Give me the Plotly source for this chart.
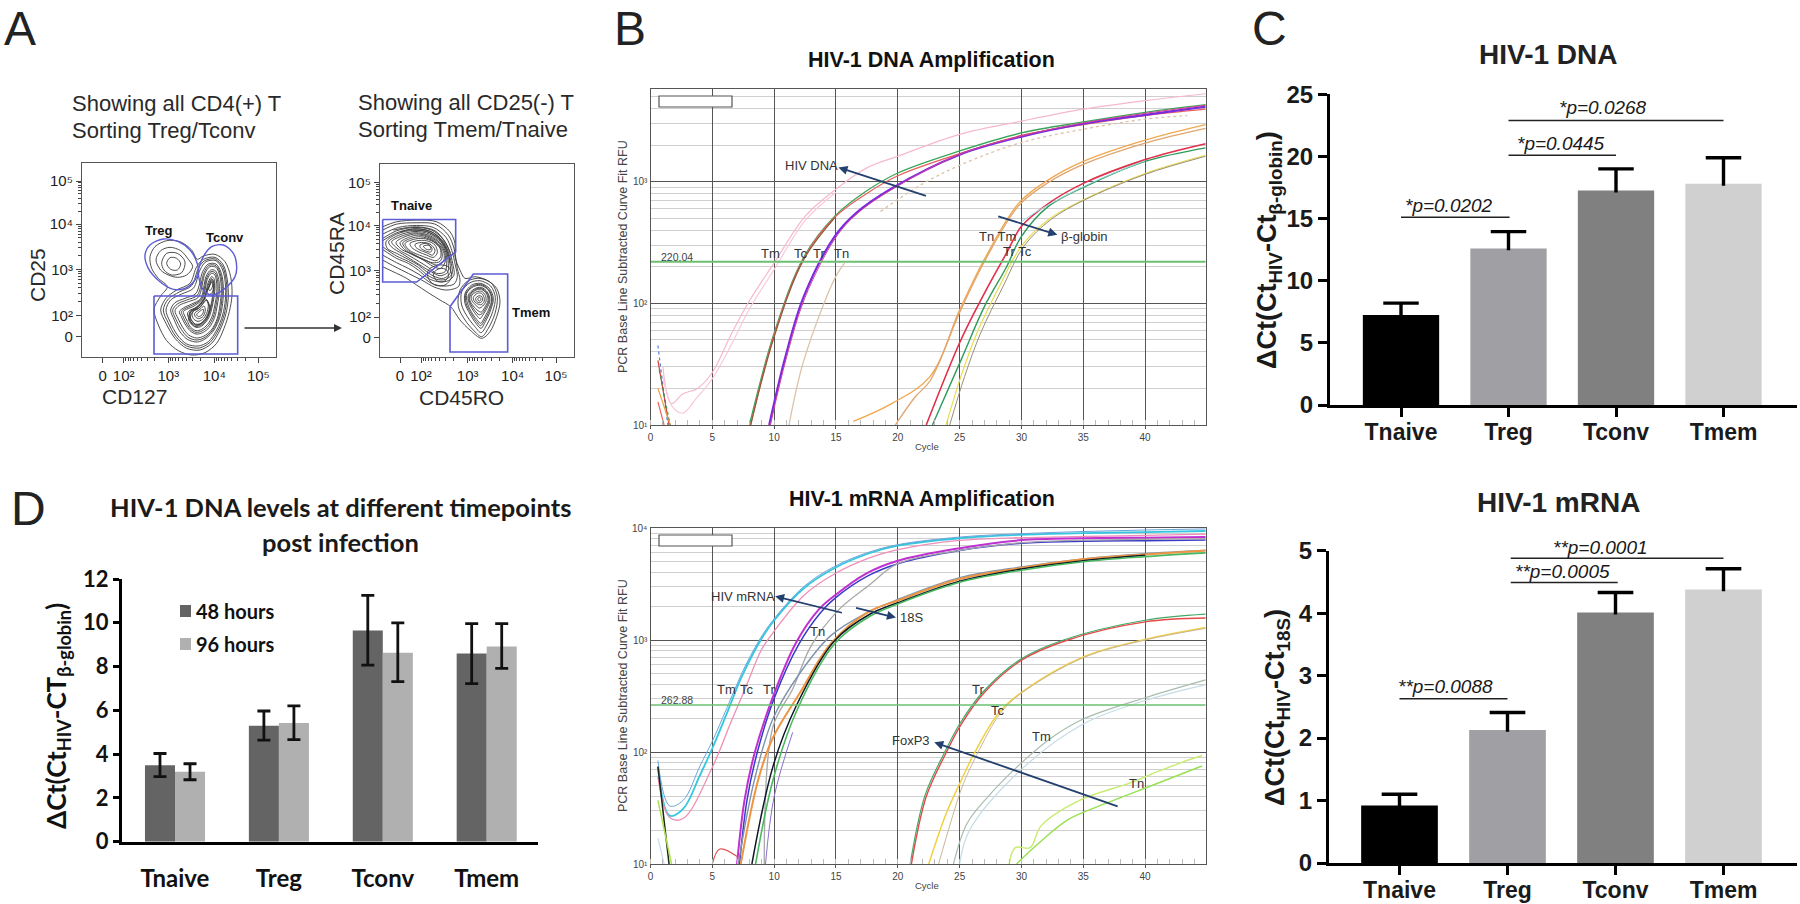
import math
import plotly.graph_objects as go

W, H = 1800, 904
SANS = "Liberation Sans"
CALIB = "Lato"

# ---------- Panel C / D values ----------
cells = ["Tnaive", "Treg", "Tconv", "Tmem"]
dna_vals = [7.24, 12.6, 17.25, 17.8]
dna_tops = [8.2, 13.95, 19.0, 19.9]
mrna_vals = [0.92, 2.13, 4.01, 4.38]
mrna_tops = [1.10, 2.41, 4.33, 4.71]
bar_colors = ["#000000", "#a0a0a4", "#808080", "#d0d0d0"]

h48_vals = [3.49, 5.3, 9.65, 8.6]
h48_hi = [4.03, 5.97, 11.25, 9.96]
h48_lo = [2.97, 4.64, 8.07, 7.22]
h96_vals = [3.2, 5.42, 8.63, 8.92]
h96_hi = [3.56, 6.2, 10.0, 9.96]
h96_lo = [2.83, 4.66, 7.31, 7.92]

dna_sig = [(0.0, 1.01, 15.1), (1.0, 2.0, 20.1), (1.0, 3.0, 22.9)]
mrna_sig = [(0.0, 1.0, 2.63), (1.03, 2.02, 4.49), (1.03, 3.0, 4.88)]
sig_labels = ["*p=0.0202", "*p=0.0445", "*p=0.0268", "**p=0.0088", "**p=0.0005", "**p=0.0001"]

# ---------- Panel B curves: (cycles, RFU, colour, width, dash) ----------
B1_CURVES = [
    ([1.0,1.7,2.6,3.8,5,6.5,8,10,12.5,15,17.5,20,25,30,35,40,45],[30,15,18,20,27,55,105,215,520,870,1300,1620,2450,3150,3950,4650,5300],"#f6b8cc",1.2,None),
    ([1.0,1.8,2.6,3.8,5,6.5,8,10,12.5,15],[25,14,12.5,17,24,45,90,190,480,820],"#f9c9d8",1.2,None),
    ([8,10,12.4,14.9,17.4,20,25,30,35,40,44.9],[10,57,240,520,830,1180,1790,2520,3100,3720,4300],"#3aa55a",1.3,None),
    ([8.1,10,12.4,14.9,17.4,20,25,30,35,40,44.9],[10,55,235,510,790,1120,1700,2400,2950,3500,3950],"#e8605c",1.3,None),
    ([8.1,10,12.4,14.9],[10,53,230,505],"#8a5a3a",1.2,None),
    ([9.6,10.9,12.4,14.9,16.6,19.5,25,30,35,40,44.9],[10,36,114,355,550,880,1670,2350,3000,3550,4150],"#7a2be2",2.2,None),
    ([9.7,11,12.5,15,16.7,19.6,25,30,35,40,44.9],[10,36,112,350,545,875,1680,2380,3040,3650,4250],"#d6408e",1.0,None),
    ([11.2,12.4,14.9,15.7],[10,34,160,215],"#dcc2a8",1.3,None),
    ([18.6,22,25.4,30,35,40,43.4],[570,960,1420,2100,2700,3270,3500],"#dcc2a8",1.3,"dot"),
    ([16.4,19.5,22.6,25,27,29.8,32.2,35,40,44.9],[10.7,15,25,88,230,670,1040,1470,2200,2950],"#f0a850",1.4,None),
    ([19.8,21.4,22.6,25,27,29.8,32.2,35,40,44.9],[10,17,23,84,220,640,990,1390,2080,2750],"#e0a570",1.3,None),
    ([22.3,25.1,27,28.8,30,32.2,35,40,44.9],[10,50,121,260,430,665,970,1520,2050],"#e0304a",1.6,None),
    ([22.8,25.1,27,28.8,30,32.2,35.7,40,44.9],[10,34,94,200,355,630,970,1470,1900],"#2f9a5c",1.4,None),
    ([30,31.5,35.7,40],[470,590,985,1490],"#9fdce6",1.0,None),
    ([23.9,25.1,26.4,28.2,30,32.2,35,40,44.9],[10,25,57,137,295,490,710,1170,1650],"#e8dc50",1.2,None),
    ([24.2,25.4,26.7,28.5,30.2,32.4,35,40,44.9],[10,25,57,137,295,490,700,1150,1620],"#9a8f78",1.0,None),
    ([0.6,1.4],[45,10],"#4d7ee0",1.2,"dot"),
    ([0.6,1.5],[34,10],"#d04040",1.2,None),
    ([0.6,1.6],[20,10],"#e8a040",1.2,None),
    ([0.6,1.1],[15.5,10],"#f06060",1.2,None),
    ([0.7,1.6],[28,10],"#3a9a50",1.0,"dot"),
]
B2_CURVES = [
    ([0.6,1.55,2.64,4,5,6.2,7.4,8.8,9.9,12.4,14.9,17.7,20,25,30,35,40,44.9],[74,27,31,62,108,225,475,950,1450,2900,4400,5950,6950,8100,8700,9000,9200,9400],"#35c6e0",1.8,None),
    ([0.6,1.55,2.64,4,5,6.2,7.4,8.8,9.9,12.4,14.9,17.7,20,25,30,35,40,44.9],[84,33,37,75,125,250,510,1000,1500,3000,4550,6100,7100,8300,8900,9300,9600,9800],"#6aa4d8",1.0,None),
    ([0.6,1.55,2.64,5,6.5,7.75,9,9.9,12.4,14.9,17.7,20,25,30,35,40,44.9],[60,26,25.5,73,184,390,830,1160,2500,3900,5400,6400,7750,8200,8400,8600,8800],"#ef8fb8",1.3,None),
    ([7,7.6,8.4,9.9,11.8,13.6,14.9,17.4,20,25,30,35,40,44.9],[10,37,96,310,960,1870,2500,3900,5100,6600,7800,8100,8200,8300],"#c030d0",2.0,None),
    ([7.2,7.8,8.6,10,12,13.8,15,17.5,20,25,30,35,40,44.9],[10,37,96,300,920,1780,2400,3700,4800,6300,7300,7600,7700,7800],"#3a3ac8",1.5,None),
    ([9.2,9.9,11.5,13,15.2,17.7,20,25,30,35,40,44.9],[10,168,365,890,1850,3100,4800,6300,7400,7800,7900,8000],"#a8a8a8",1.3,None),
    ([7.1,8.4,9.9,12.1,14.6,17.4,20,25,30,35,40,44.9],[10,56,198,510,1100,1730,2300,3600,4500,5300,5900,6300],"#7f93ad",1.4,None),
    ([7.3,8.7,9.9,12.1,14.6,17.7,20,25,30,35,40,44.9],[10,56,134,340,930,1800,2250,3500,4400,5250,5800,6300],"#ef9440",2.0,None),
    ([8.2,9.9,11.8,14.9,17.7,20,25,30,35,40],[10,74,260,990,1690,2150,3350,4300,5100,5700],"#101828",1.5,None),
    ([8.5,9.9,11.8,14.9,17.7,20,25,30,35,40,44.9],[10,56,230,930,1620,2100,3280,4200,5000,5550,6000],"#49b860",1.6,None),
    ([9.3,10,11.5],[10,40,150],"#8a70d0",1.0,None),
    ([21.1,22.3,23.9,25.1,27,30,33.5,40,44.9],[10,40,98,175,340,660,980,1450,1570],"#e84848",1.4,None),
    ([21,22.2,23.8,25,26.9,29.9,33.4,40,44.9],[10,41,100,178,345,670,1000,1500,1700],"#42a868",1.2,None),
    ([22.5,23.9,25.1,26.2,28.2,30,35,40,44.9],[10,28,55,98,226,340,705,1010,1290],"#f2d040",1.5,None),
    ([23.3,24.3,25.3,26.4,28.3,30,35,40,44.9],[10,24,52,95,222,335,695,1000,1270],"#c8b898",1.0,None),
    ([24.5,25.6,27.3,30,32.6,35,40,44.9],[10,23,40,80,138,197,305,440],"#a8bcae",1.2,None),
    ([25,25.8,30,35,40,44.9],[10,20,70,178,288,400],"#c4dce4",1.2,None),
    ([29,29.5,30.7,31.6,34.7,38.8,40.9,43,44.6],[10,14,14,22,37,53,66,81,93],"#c8ec70",1.4,None),
    ([29.6,31.3,33.8,36.6,40.7,44.6],[10,15,25,34,51,75],"#98e050",1.4,None),
    ([0.6,1.5],[74,10],"#182818",1.5,None),
    ([0.6,1.7],[37,10],"#b0e050",1.5,None),
    ([0.6,1.1],[17,10],"#c8dcf0",1.2,None),
    ([5,5.6,7.1],[10,13.6,11.5],"#e05050",1.2,None),
]

# ---------- Panel A: flow channels ----------
A1_TICK_POS_X = [-112, -49, 85, 223, 355]
A1_TICK_POS_Y = [-117, 12, 148, 287, 350]
A2_TICK_POS_X = [60, 123, 263, 398, 528]
A2_TICK_POS_Y = [-83, 46, 182, 321, 383]
FLOW_TX = ["0", "10²", "10³", "10⁴", "10⁵"]
FLOW_TY = ["10⁵", "10⁴", "10³", "10²", "0"]

A1_CONT = [
 [(30,110),(45,80),(80,62),(120,65),(155,90),(172,118),(190,108),(225,103),(255,125),(272,170),(276,225),(268,275),(252,325),(230,370),(195,398),(155,405),(115,392),(80,362),(55,315),(42,268),(62,228),(82,200),(55,175),(35,145),(30,110)],
 [(48,120),(62,92),(90,82),(122,92),(145,118),(158,140),(140,165),(112,172),(85,165),(62,150),(48,120)],
 [(65,128),(80,100),(112,100),(135,125),(125,158),(95,165),(72,150),(65,128)],
 [(80,130),(90,113),(110,115),(122,132),(112,150),(92,148),(80,130)],
 [(170,140),(190,118),(225,112),(250,135),(262,180),(265,230),(258,280),(240,330),(215,370),(180,390),(140,385),(105,355),(78,310),(62,270),(78,235),(110,210),(150,190),(170,140)],
 [(175,145),(194,122),(226,117),(249,142),(259,185),(260,235),(253,282),(235,330),(210,367),(178,384),(140,378),(108,350),(84,307),(70,270),(85,237),(118,216),(155,197),(175,145)],
 [(180,150),(198,125),(228,122),(248,150),(256,190),(256,240),(248,285),(230,330),(205,365),(175,378),(140,372),(112,345),(90,305),(78,270),(92,240),(125,222),(160,205),(180,150)],
 [(188,155),(205,132),(228,132),(244,160),(250,200),(248,250),(240,290),(222,330),(198,355),(172,366),(142,358),(120,335),(103,300),(92,270),(105,248),(135,235),(168,220),(188,155)],
 [(192,158),(207,136),(228,137),(242,165),(247,205),(244,252),(236,292),(218,330),(195,352),(171,360),(144,352),(124,328),(108,298),(98,271),(112,252),(140,240),(172,226),(192,158)],
 [(195,160),(210,140),(228,142),(240,170),(244,210),(240,255),(232,295),(214,330),(192,348),(170,354),(146,345),(128,322),(114,295),(105,272),(118,256),(145,245),(175,232),(195,160)],
 [(198,170),(212,150),(226,152),(236,178),(238,215),(232,255),(224,292),(208,322),(188,338),(168,342),(150,332),(135,312),(124,290),(118,275),(130,264),(155,252),(182,236),(198,170)],
 [(200,174),(213,155),(225,158),(233,184),(234,218),(228,256),(220,291),(205,318),(186,333),(168,337),(151,327),(138,308),(128,287),(124,275),(135,266),(158,255),(185,236),(200,174)],
 [(202,178),(214,160),(224,164),(230,190),(230,222),(224,258),(216,290),(202,314),(185,328),(168,332),(152,322),(142,304),(133,285),(130,275),(140,268),(162,258),(188,236),(202,178)],
 [(205,186),(215,170),(222,176),(225,200),(222,232),(216,262),(208,290),(196,308),(182,320),(168,322),(155,312),(147,296),(142,282),(148,272),(168,262),(192,236),(205,186)],
 [(206,192),(215,176),(221,185),(222,212),(217,245),(210,274),(200,296),(186,310),(170,316),(158,306),(148,290),(150,274),(168,264),(192,238),(206,192)],
 [(207,200),(215,182),(220,195),(218,225),(212,258),(204,285),(192,302),(178,312),(166,312),(156,302),(150,288),(152,276),(170,266),(192,240),(207,200)],
 [(190,250),(200,240),(205,255),(200,280),(188,298),(174,304),(162,298),(156,285),(160,274),(175,266),(190,250)],
 [(180,268),(192,258),(196,270),(190,288),(176,296),(166,290),(164,280),(180,268)],
 [(182,272),(190,268),(188,282),(176,290),(170,284),(182,272)],
 [(208,198),(215,178),(222,190),(218,215),(206,225),(200,215),(208,198)],
 [(210,195),(216,186),(218,198),(210,212),(206,208),(210,195)],
 [(150,300),(158,275),(180,262),(198,240),(208,262),(200,290),(184,310),(165,315),(150,300)],
 [(146,300),(152,275),(175,260),(196,236),(210,262),(203,292),(186,314),(164,319),(146,300)],
]
A1_GATES = [
 [(15,105),(30,75),(70,57),(115,65),(150,90),(170,125),(175,150),(165,180),(135,205),(100,208),(60,185),(25,145),(15,105)],
 [(175,160),(185,120),(215,80),(250,75),(280,100),(290,140),(285,170),(255,205),(215,225),(190,210),(175,160)],
]
A1_RECT = [(42,228),(293,228),(293,402),(42,402),(42,228)]

A2_CONT = [
 [(8,170),(40,185),(80,205),(110,225),(140,245),(180,270),(212,290),(240,330),(270,360),(305,385),(330,365),(350,320),(360,275),(350,235),(320,210),(285,200),(255,205),(240,180),(225,140),(225,100),(210,65),(170,35),(110,30),(50,35),(8,50)],
 [(8,60),(50,42),(110,38),(165,42),(205,75),(222,115),(232,175),(240,210),(235,230),(200,240),(165,232),(125,210),(85,190),(45,170),(8,150)],
 [(8,72),(55,52),(110,46),(160,52),(198,82),(215,120),(226,165),(232,200),(222,222),(190,228),(155,220),(120,195),(85,175),(50,158),(8,135)],
 [(8,85),(50,62),(105,52),(155,60),(190,88),(208,122),(218,160),(222,195),(205,212),(175,215),(145,205),(115,180),(85,160),(50,145),(8,118)],
 [(8,92),(50,68),(105,56),(152,64),(187,90),(205,124),(214,160),(216,192),(197,208),(170,208),(142,195),(115,172),(85,154),(50,138),(8,110)],
 [(18,95),(50,72),(105,60),(150,68),(185,92),(203,125),(210,160),(210,190),(190,205),(165,200),(140,185),(115,165),(85,148),(50,130),(22,115),(18,95)],
 [(26,95),(55,76),(105,64),(149,72),(182,95),(200,126),(205,160),(203,187),(180,197),(155,186),(128,170),(100,152),(68,132),(34,110),(26,95)],
 [(35,95),(60,80),(105,68),(148,76),(180,98),(198,128),(200,160),(195,185),(170,190),(145,172),(118,155),(90,138),(58,120),(35,95)],
 [(48,97),(72,81),(110,71),(149,80),(179,101),(195,129),(195,157),(182,175),(158,168),(130,150),(100,134),(65,118),(48,97)],
 [(60,98),(85,82),(115,75),(150,84),(178,105),(192,130),(190,155),(170,165),(145,155),(115,142),(90,130),(70,115),(60,98)],
 [(68,99),(92,85),(122,80),(155,90),(179,110),(187,135),(180,154),(158,158),(132,148),(105,135),(80,118),(68,99)],
 [(75,100),(100,88),(130,85),(160,95),(180,115),(182,140),(168,152),(145,145),(118,135),(95,125),(80,112),(75,100)],
 [(90,100),(110,92),(140,92),(165,105),(172,128),(160,142),(140,135),(115,125),(95,112),(90,100)],
 [(105,103),(125,97),(150,102),(165,120),(158,135),(140,128),(120,120),(108,112),(105,103)],
 [(120,105),(140,100),(156,115),(152,126),(136,122),(122,114),(120,105)],
 [(130,108),(148,106),(152,118),(140,118),(130,108)],
 [(40,60),(110,50),(165,62),(195,95),(212,130)],
 [(60,66),(110,56),(160,68),(190,100),(206,140),(210,160)],
 [(100,60),(140,64),(175,85),(198,115)],
 [(145,180),(175,165),(205,170),(215,200),(195,225),(165,225),(145,205),(145,180)],
 [(160,190),(180,175),(200,180),(205,200),(190,215),(170,212),(160,190)],
 [(240,240),(265,212),(300,205),(335,220),(352,260),(345,310),(325,355),(305,380),(280,360),(255,330),(235,290),(240,240)],
 [(245,245),(270,218),(300,212),(332,228),(346,262),(338,305),(320,345),(303,368),(285,350),(262,320),(245,285),(245,245)],
 [(255,250),(275,225),(302,220),(328,235),(340,265),(332,300),(316,335),(303,355),(288,340),(270,312),(255,280),(255,250)],
 [(258,250),(278,228),(302,223),(326,238),(337,267),(329,299),(314,330),(302,347),(289,334),(272,308),(258,279),(258,250)],
 [(260,250),(280,230),(302,226),(325,240),(335,268),(326,298),(312,325),(302,340),(290,328),(274,305),(262,278),(260,250)],
 [(265,255),(284,236),(304,232),(322,246),(330,270),(320,296),(308,316),(300,326),(290,316),(276,296),(266,275),(265,255)],
 [(268,256),(286,238),(304,235),(321,249),(327,271),(317,294),(306,311),(297,314),(285,302),(273,284),(268,272),(268,256)],
 [(270,258),(288,240),(305,238),(320,252),(324,272),(314,292),(304,306),(294,302),(280,288),(270,272),(270,258)],
 [(274,258),(290,245),(305,244),(316,256),(318,274),(308,288),(298,294),(286,284),(276,272),(274,258)],
 [(280,262),(292,250),(305,250),(312,262),(312,276),(302,284),(290,280),(282,272),(280,262)],
 [(287,265),(297,257),(306,260),(307,272),(299,278),(290,274),(287,265)],
 [(293,266),(300,262),(303,269),(297,273),(293,266)],
]
A2_GATES = [
 [(8,28),(227,28),(227,125),(110,216),(8,216),(8,28)],
 [(210,290),(280,192),(383,192),(383,426),(210,426),(210,290)],
]

GATE = "#5c5cd6"
fig = go.Figure()


def dom_x(a, b):
    return [a / W, b / W]


def dom_y(top, bottom):
    return [1 - bottom / H, 1 - top / H]


def txt(px, py, text, size, family=SANS, color="#1a1a1a", weight=400, angle=0, anchor="center", style="normal"):
    if anchor == "left":
        px -= 2.5
    fig.add_annotation(xref="paper", yref="paper", x=px / W, y=1 - py / H, text=text, showarrow=False,
                       xanchor=anchor, yanchor="middle", textangle=angle,
                       font=dict(family=family, size=size, color=color, weight=weight, style=style))


def poly(pts, ax, color="#3a3a3a", width=0.9, smooth=True):
    fig.add_trace(go.Scatter(x=[p[0] for p in pts], y=[p[1] for p in pts], mode="lines",
                             xaxis="x" + ax, yaxis="y" + ax, showlegend=False, hoverinfo="skip",
                             line=dict(color=color, width=width, shape="spline" if smooth else "linear", smoothing=0.9)))


def minor_flow(pos):
    out = []
    decs = sorted(pos)
    for a, b in zip(decs[:-1], decs[1:]):
        for k in range(2, 10):
            out.append(a + (b - a) * (1 - math.log10(k)))
    return out


# ---------- Panel A ----------
for cont in A1_CONT:
    poly(cont, "")
for g in A1_GATES:
    poly(g, "", GATE, 1.4)
poly(A1_RECT, "", GATE, 1.6, False)
for cont in A2_CONT:
    poly(cont, "2")
for g in A2_GATES:
    poly(g, "2", GATE, 1.6, False)


def flow_axes(n, x0, x1, y0, y1, xr, yr, tx, ty):
    common = dict(showline=True, mirror=True, linecolor="#555555", linewidth=1.2, showgrid=False, zeroline=False, automargin=False,
                  ticks="outside", ticklen=5, tickcolor="#444444", tickfont=dict(family=SANS, size=15, color="#222222"))
    fig.layout["xaxis" + n] = dict(common, domain=dom_x(x0, x1), range=xr, anchor="y" + n, tickmode="array",
                                   tickvals=tx, ticktext=FLOW_TX,
                                   minor=dict(tickmode="array", tickvals=minor_flow(tx[1:]), ticks="outside", ticklen=3, tickcolor="#444444"))
    fig.layout["yaxis" + n] = dict(common, domain=dom_y(y0, y1), range=yr, anchor="x" + n, tickmode="array",
                                   tickvals=ty, ticktext=FLOW_TY,
                                   minor=dict(tickmode="array", tickvals=minor_flow(ty[:-1]), ticks="outside", ticklen=3, tickcolor="#444444"))


flow_axes("", 82, 276, 163, 357, [-174, 408], [411, -171], A1_TICK_POS_X, A1_TICK_POS_Y)
flow_axes("2", 380, 574, 163.5, 357, [0, 582], [441, -140], A2_TICK_POS_X, A2_TICK_POS_Y)

txt(72, 103, "Showing all CD4(+) T", 22, anchor="left", color="#2a2a2a")
txt(72, 130, "Sorting Treg/Tconv", 22, anchor="left", color="#2a2a2a")
txt(358.5, 102, "Showing all CD25(-) T", 22, anchor="left", color="#2a2a2a")
txt(358.5, 129, "Sorting Tmem/Tnaive", 22, anchor="left", color="#2a2a2a")
txt(37, 275, "CD25", 21, angle=-90, color="#2a2a2a")
txt(134, 397, "CD127", 21, color="#2a2a2a")
txt(337, 254, "CD45RA", 21, angle=-90, color="#2a2a2a")
txt(461, 398, "CD45RO", 21, color="#2a2a2a")
txt(159, 230, "Treg", 13, weight=700, color="#111111")
txt(225, 237, "Tconv", 13, weight=700, color="#111111")
txt(411, 206, "Tnaive", 13, weight=700, color="#111111")
txt(531, 312, "Tmem", 13, weight=700, color="#111111")
fig.add_annotation(xref="paper", yref="paper", x=342 / W, y=1 - 328 / H, ax=-99, ay=0, text="", showarrow=True,
                   arrowhead=2, arrowsize=1, arrowwidth=1.6, arrowcolor="#333333")

txt(20, 29, "A", 48, color="#222222")
txt(630, 29, "B", 48, color="#222222")
txt(1269, 29, "C", 48, color="#222222")
txt(28, 508, "D", 48, color="#222222")

# ---------- Panel B ----------
for n, curves, y0, y1, yr, ytv, ytx in [
    ("3", B1_CURVES, 89.3, 425, [1, 3.76], [10, 100, 1000], ["10¹", "10²", "10³"]),
    ("4", B2_CURVES, 528, 864, [1, 4], [10, 100, 1000, 10000], ["10¹", "10²", "10³", "10⁴"]),
]:
    for cx, cy, col, wd, ds in curves:
        fig.add_trace(go.Scatter(x=cx, y=cy, mode="lines", xaxis="x" + n, yaxis="y" + n, showlegend=False,
                                 hoverinfo="skip", line=dict(color=col, width=wd, dash=ds or "solid", shape="spline", smoothing=1.0)))
    fig.layout["xaxis" + n] = dict(domain=dom_x(650.5, 1205.7), range=[0, 44.9], anchor="y" + n, showline=True, mirror=True,
                                   linecolor="#555555", linewidth=1.3, zeroline=False, tickmode="array", automargin=False,
                                   tickvals=[0, 5, 10, 15, 20, 25, 30, 35, 40], showgrid=True, gridcolor="#555555", gridwidth=1.4,
                                   ticks="outside", ticklen=3, tickcolor="#555555",
                                   minor=dict(dtick=1, ticks="inside", ticklen=5, tickcolor="#bbbbbb", showgrid=False),
                                   tickfont=dict(family=SANS, size=10, color="#444444"))
    fig.layout["yaxis" + n] = dict(domain=dom_y(y0, y1), type="log", range=yr, anchor="x" + n, showline=True, mirror=True,
                                   linecolor="#555555", linewidth=1.3, zeroline=False, tickmode="array", automargin=False,
                                   tickvals=ytv, ticktext=ytx, showgrid=True, gridcolor="#555555", gridwidth=1.4,
                                   ticks="", minor=dict(dtick="D1", showgrid=True, gridcolor="#cfcfcf", gridwidth=1.4, ticks=""),
                                   tickfont=dict(family=SANS, size=10, color="#444444"))
    txt(623, 257 if n == "3" else 696, "PCR Base Line Subtracted Curve Fit RFU", 12.5, angle=-90, color="#444444")
    txt(927, 446 if n == "3" else 885, "Cycle", 9.5, color="#444444")
    fig.add_shape(type="rect", xref="paper", yref="paper", x0=659 / W, x1=732 / W,
                  y0=1 - (107 if n == "3" else 546) / H, y1=1 - (96 if n == "3" else 535) / H,
                  line=dict(color="#555555", width=1.2), fillcolor="white", layer="above")

fig.add_trace(go.Scatter(x=[0, 44.9], y=[220.04, 220.04], mode="lines", xaxis="x3", yaxis="y3", showlegend=False,
                         hoverinfo="skip", line=dict(color="#6cc070", width=2)))
fig.add_trace(go.Scatter(x=[0, 44.9], y=[262.88, 262.88], mode="lines", xaxis="x4", yaxis="y4", showlegend=False,
                         hoverinfo="skip", line=dict(color="#6cc070", width=1.3)))

B1_LABELS = [(9.67, 2.41, "Tm"), (12.2, 2.41, "Tc"), (13.6, 2.41, "Tr"), (15.45, 2.41, "Tn"), (13.0, 3.13, "HIV DNA"),
             (28.06, 2.55, "Tn Tm"), (29.7, 2.43, "Tr Tc"), (35.1, 2.55, "β-globin")]
B2_LABELS = [(6.14, 2.555, "Tm"), (7.8, 2.555, "Tc"), (9.6, 2.555, "Tr"), (13.5, 3.08, "Tn"), (7.44, 3.39, "HIV mRNA"),
             (21.1, 3.2, "18S"), (26.5, 2.555, "Tr"), (28.1, 2.37, "Tc"), (31.6, 2.14, "Tm"), (39.3, 1.715, "Tn"), (21.1, 2.1, "FoxP3")]
for n, labs in (("3", B1_LABELS), ("4", B2_LABELS)):
    for cx, ly, t in labs:
        fig.add_annotation(xref="x" + n, yref="y" + n, x=cx, y=ly, text=t, showarrow=False,
                           font=dict(family=SANS, size=13, color="#333333"))
fig.add_annotation(xref="x3", yref="y3", x=0.7, y=2.385, text="220.04", showarrow=False, xanchor="left",
                   font=dict(family=SANS, size=10.5, color="#444444"))
fig.add_annotation(xref="x4", yref="y4", x=0.7, y=2.465, text="262.88", showarrow=False, xanchor="left",
                   font=dict(family=SANS, size=10.5, color="#444444"))
ARROWS = [("3", 22.4, 2.88, 15.2, 3.118), ("3", 28, 2.72, 32.9, 2.564), ("4", 15.6, 3.24, 10.08, 3.39),
          ("4", 16.5, 3.29, 19.85, 3.2), ("4", 37.9, 1.51, 22.95, 2.087)]
for n, xa, ya, xb, yb in ARROWS:
    fig.add_annotation(xref="x" + n, yref="y" + n, axref="x" + n, ayref="y" + n, x=xb, y=yb, ax=xa, ay=ya, text="",
                       showarrow=True, arrowhead=2, arrowsize=1, arrowwidth=1.8, arrowcolor="#24406e")

txt(931, 60, "HIV-1 DNA Amplification", 21.5, weight=700, color="#111111")
txt(922, 499, "HIV-1 mRNA Amplification", 21.5, weight=700, color="#111111")


# ---------- Panel C ----------
def panel_c(n, vals, tops, sig, x0, y0, y1, ymax, dtick, cx0, spacing):
    fig.add_trace(go.Bar(x=list(range(4)), y=vals, width=0.71, marker=dict(color=bar_colors, line=dict(width=0)),
                         xaxis="x" + n, yaxis="y" + n, showlegend=False, hoverinfo="skip"))
    ex, ey = [], []
    for i, (v, t) in enumerate(zip(vals, tops)):
        ex += [i, i, None, i - 0.165, i + 0.165, None]
        ey += [v - ymax * 0.006, t, None, t, t, None]
    fig.add_trace(go.Scatter(x=ex, y=ey, mode="lines", line=dict(color="#000000", width=3.4), xaxis="x" + n, yaxis="y" + n,
                             showlegend=False, hoverinfo="skip"))
    for a, b, y in sig:
        fig.add_trace(go.Scatter(x=[a, b], y=[y, y], mode="lines", line=dict(color="#222222", width=1.5), xaxis="x" + n,
                                 yaxis="y" + n, showlegend=False, hoverinfo="skip"))
    xr = [(x0 - cx0) / spacing, (1797 - cx0) / spacing]
    fig.layout["xaxis" + n] = dict(domain=dom_x(x0, 1797), range=xr, anchor="y" + n, showline=True, linecolor="#000000", linewidth=3,
                                   showgrid=False, zeroline=False, tickmode="array", tickvals=[0, 1, 2, 3], ticktext=cells, automargin=False,
                                   ticks="outside", ticklen=9, tickwidth=3, tickcolor="#000000", ticklabelstandoff=-5,
                                   tickfont=dict(family=SANS, size=23, color="#1a1a1a", weight=700))
    fig.layout["yaxis" + n] = dict(domain=dom_y(y0, y1), range=[0, ymax], anchor="x" + n, showline=True, linecolor="#000000", linewidth=3,
                                   showgrid=False, zeroline=False, tick0=0, dtick=dtick, ticks="outside", ticklen=9, tickwidth=3, automargin=False,
                                   tickcolor="#000000", tickfont=dict(family=SANS, size=24, color="#1a1a1a", weight=700))


panel_c("5", dna_vals, dna_tops, dna_sig, 1330, 94.3, 405, 25, 5, 1401, 107.5)
panel_c("6", mrna_vals, mrna_tops, mrna_sig, 1329, 550.7, 863, 5, 1, 1399.5, 108)
for lab, lab_px, lab_py in zip(sig_labels, [1405, 1517, 1559, 1398, 1515, 1553], [206, 143, 108, 686.7, 571, 547]):
    txt(lab_px, lab_py, lab, 19, anchor="left", style="italic", color="#1a1a1a")
txt(1548, 55, "HIV-1 DNA", 28, weight=700, color="#222222")
txt(1558.5, 502, "HIV-1 mRNA", 28, weight=700, color="#222222")
txt(1269, 250, "ΔCt(Ct<sub>HIV</sub>-Ct<sub>β-globin</sub>)", 27, weight=700, angle=-90)
txt(1277, 708, "ΔCt(Ct<sub>HIV</sub>-Ct<sub>18S</sub>)", 27, weight=700, angle=-90)

# ---------- Panel D ----------
xs = list(range(4))
fig.add_trace(go.Bar(x=xs, y=h48_vals, width=0.289, offset=-0.289, name="48 hours", showlegend=False,
                     marker=dict(color="#646464", line=dict(width=0)), xaxis="x7", yaxis="y7", hoverinfo="skip"))
fig.add_trace(go.Bar(x=xs, y=h96_vals, width=0.289, offset=0, name="96 hours", showlegend=False,
                     marker=dict(color="#b0b0b0", line=dict(width=0)), xaxis="x7", yaxis="y7", hoverinfo="skip"))
for off, vals, hi, lo in ((-0.1445, h48_vals, h48_hi, h48_lo), (0.1445, h96_vals, h96_hi, h96_lo)):
    fig.add_trace(go.Scatter(x=[i + off for i in xs], y=vals, mode="markers", marker=dict(size=1, opacity=0), xaxis="x7", yaxis="y7",
                             showlegend=False, hoverinfo="skip",
                             error_y=dict(type="data", symmetric=False, array=[h - v for h, v in zip(hi, vals)],
                                          arrayminus=[v - l for l, v in zip(lo, vals)], color="#111111", thickness=2.8, width=6.5)))
fig.layout["xaxis7"] = dict(domain=dom_x(122, 538), range=[(122 - 175) / 103.9, (538 - 175) / 103.9], anchor="y7", showline=True,
                            linecolor="#000000", linewidth=3, showgrid=False, zeroline=False, tickmode="array", tickvals=xs,
                            ticktext=cells, ticks="", ticklabelstandoff=13, automargin=False,
                            tickfont=dict(family=CALIB, size=24, color="#111111", weight=700))
fig.layout["yaxis7"] = dict(domain=dom_y(579, 841.7), range=[0, 12], anchor="x7", showline=True, linecolor="#000000", linewidth=3,
                            showgrid=False, zeroline=False, tick0=0, dtick=2, ticks="outside", ticklen=6, tickwidth=3, automargin=False,
                            tickcolor="#000000", tickfont=dict(family=CALIB, size=22, color="#111111", weight=700))
txt(340, 507, "HIV-1 DNA levels at different timepoints", 25.5, family=CALIB, weight=700, color="#1a1a1a")
txt(340, 542, "post infection", 25.5, family=CALIB, weight=700, color="#1a1a1a")
txt(57, 716, "ΔCt(Ct<sub>HIV</sub>-CT<sub>β-globin</sub>)", 26, family=CALIB, weight=700, angle=-90, color="#111111")
# key for the two timepoints
for key_y, key_col, key_name in ((611, "#646464", "48 hours"), (644, "#b0b0b0", "96 hours")):
    fig.add_shape(type="rect", xref="paper", yref="paper", x0=180 / W, x1=191 / W, y0=1 - (key_y + 6) / H, y1=1 - (key_y - 6) / H,
                  line=dict(width=0), fillcolor=key_col)
    txt(196, key_y, key_name, 20, family=CALIB, weight=700, anchor="left", color="#111111")

fig.update_layout(width=W, height=H, margin=dict(l=0, r=0, t=0, b=0, autoexpand=False), paper_bgcolor="white", plot_bgcolor="white",
                  barmode="overlay", font=dict(family=SANS), showlegend=False)
fig.write_html("out.html", post_script="document.body.style.margin='0';", config={"displayModeBar": False})
